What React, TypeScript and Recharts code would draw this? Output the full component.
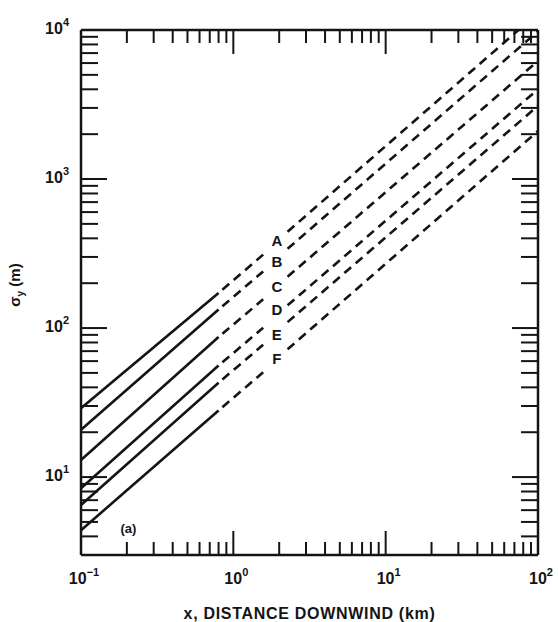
import React from 'react';
import { LineChart, Line, XAxis, YAxis, ReferenceDot } from 'recharts';

// Distances (km): start, end of solid part, start of label gap, end of label gap, end of dashed part
const distances = [0.1, 0.8, 1.57, 2.27, 100];
const classes = ['A', 'B', 'C', 'D', 'E', 'F'];
// sigma_y (m) read at the distances above
const sigmaA = [29, 172, 311, 443, 13000];
const sigmaB = [20.8, 133, 240, 340, 9800];
const sigmaC = [13, 87, 156, 221, 6200];
const sigmaD = [8.4, 56, 100.5, 142, 4000];
const sigmaE = [6.5, 43, 77.2, 109.6, 3100];
const sigmaF = [4.4, 28, 50.5, 72, 2100];
const sigmaSeries = [sigmaA, sigmaB, sigmaC, sigmaD, sigmaE, sigmaF];

// class letter label positions (data units)
const letterX = 1.93;
const letterY = [385, 280, 190, 133, 90, 62];
const panelTag = '(a)';
const panelTagPos = { x: 0.205, y: 4.5 };

const xTicks = [0.1, 0.2, 0.3, 0.4, 0.5, 0.6, 0.7, 0.8, 0.9, 1, 2, 3, 4, 5, 6, 7, 8, 9, 10, 20, 30, 40, 50, 60, 70, 80, 90, 100];
const yTicks = [3, 4, 5, 6, 7, 8, 9, 10, 20, 30, 40, 50, 60, 70, 80, 90, 100, 200, 300, 400, 500, 600, 700, 800, 900, 1000, 2000, 3000, 4000, 5000, 6000, 7000, 8000, 9000, 10000];
const xDomain = [0.1, 100];
const yDomain = [3, 10000];

const INK = '#141414';
const FONT = '"Liberation Sans", Arial, sans-serif';

const isMajor = (v: number) => Math.abs(Math.log10(v) - Math.round(Math.log10(v))) < 1e-6;
const expOf = (v: number) => {
  const e = Math.round(Math.log10(v));
  return e < 0 ? '\u2212' + Math.abs(e) : String(e);
};

const PowerLabel = ({ x, y, v, anchor }: any) => (
  <text x={x} y={y} textAnchor={anchor} fontFamily={FONT} fontWeight="bold" fontSize={16} fill={INK}>
    10<tspan dy={-8} fontSize={11}>{expOf(v)}</tspan>
  </text>
);

const BottomTick = (props: any) => {
  const { x, y, payload } = props;
  const v = payload.value;
  const major = isMajor(v);
  const len = major ? 24 : 13;
  return (
    <g>
      <line x1={x} y1={y} x2={x} y2={y - len} stroke={INK} strokeWidth={2} />
      {major && <PowerLabel x={x + 3} y={y + 29} v={v} anchor="middle" />}
    </g>
  );
};

const TopTick = (props: any) => {
  const { x, y, payload } = props;
  const major = isMajor(payload.value);
  const len = major ? 24 : 13;
  return <line x1={x} y1={y} x2={x} y2={y + len} stroke={INK} strokeWidth={2} />;
};

const LeftTick = (props: any) => {
  const { x, y, payload } = props;
  const v = payload.value;
  const major = isMajor(v);
  const len = major ? 26 : 17;
  return (
    <g>
      <line x1={x} y1={y} x2={x + len} y2={y} stroke={INK} strokeWidth={2} />
      {major && <PowerLabel x={x - 12} y={y + 4} v={v} anchor="end" />}
    </g>
  );
};

const RightTick = (props: any) => {
  const { x, y, payload } = props;
  const major = isMajor(payload.value);
  const len = major ? 26 : 17;
  return <line x1={x} y1={y} x2={x - len} y2={y} stroke={INK} strokeWidth={2} />;
};

const YTitle = () => (
  <text transform="translate(20,285) rotate(-90)" textAnchor="middle" fontFamily={FONT} fontWeight="bold" fontSize={15} fill={INK}>
    σ<tspan dy={4} fontSize={10}>y</tspan>
    <tspan dy={-4}> (m)</tspan>
  </text>
);

const segment = (s: number[], a: number, b: number) => [
  { x: distances[a], y: s[a] },
  { x: distances[b], y: s[b] },
];

export default function App() {
  return (
    <div style={{ position: 'absolute', left: 0, top: 0, background: '#fff' }}>
      <LineChart width={558} height={622} margin={{ top: 29, right: 19, bottom: 0, left: 0 }}>
        <XAxis
          dataKey="x"
          type="number"
          scale="log"
          domain={xDomain}
          allowDataOverflow
          ticks={xTicks}
          interval={0}
          tickSize={0}
          tickMargin={0}
          tickLine={false}
          tick={<BottomTick />}
          height={67}
          axisLine={{ stroke: INK, strokeWidth: 2.5 }}
          label={{
            value: 'x, DISTANCE DOWNWIND (km)',
            position: 'insideBottom',
            offset: 3,
            fill: INK,
            fontSize: 16,
            fontWeight: 'bold',
            fontFamily: FONT,
            letterSpacing: 0.7,
          }}
        />
        <XAxis
          xAxisId="top"
          orientation="top"
          dataKey="x"
          type="number"
          scale="log"
          domain={xDomain}
          allowDataOverflow
          ticks={xTicks}
          interval={0}
          tickSize={0}
          tickMargin={0}
          tickLine={false}
          tick={<TopTick />}
          height={1}
          axisLine={{ stroke: INK, strokeWidth: 2.5 }}
        />
        <YAxis
          type="number"
          scale="log"
          domain={yDomain}
          allowDataOverflow
          ticks={yTicks}
          interval={0}
          tickSize={0}
          tickMargin={0}
          tickLine={false}
          tick={<LeftTick />}
          width={81}
          axisLine={{ stroke: INK, strokeWidth: 2.5 }}
          label={<YTitle />}
        />
        <YAxis
          yAxisId="right"
          orientation="right"
          type="number"
          scale="log"
          domain={yDomain}
          allowDataOverflow
          ticks={yTicks}
          interval={0}
          tickSize={0}
          tickMargin={0}
          tickLine={false}
          tick={<RightTick />}
          width={1}
          axisLine={{ stroke: INK, strokeWidth: 2.5 }}
        />
        {sigmaSeries.map((s, i) => (
          <Line
            key={'solid' + classes[i]}
            data={segment(s, 0, 1)}
            dataKey="y"
            stroke={INK}
            strokeWidth={2.6}
            dot={false}
            activeDot={false}
            isAnimationActive={false}
          />
        ))}
        {sigmaSeries.map((s, i) => (
          <Line
            key={'dashL' + classes[i]}
            data={segment(s, 1, 2)}
            dataKey="y"
            stroke={INK}
            strokeWidth={2.6}
            strokeDasharray="9 6"
            strokeDashoffset={-5}
            dot={false}
            activeDot={false}
            isAnimationActive={false}
          />
        ))}
        {sigmaSeries.map((s, i) => (
          <Line
            key={'dashR' + classes[i]}
            data={segment(s, 3, 4)}
            dataKey="y"
            stroke={INK}
            strokeWidth={2.6}
            strokeDasharray="9 6"
            dot={false}
            activeDot={false}
            isAnimationActive={false}
          />
        ))}
        {classes.map((c, i) => (
          <ReferenceDot
            key={'lbl' + c}
            x={letterX}
            y={letterY[i]}
            r={0}
            fill="none"
            stroke="none"
            label={{ value: c, position: 'center', fill: INK, fontSize: 15, fontWeight: 'bold', fontFamily: FONT }}
          />
        ))}
        <ReferenceDot
          x={panelTagPos.x}
          y={panelTagPos.y}
          r={0}
          fill="none"
          stroke="none"
          label={{ value: panelTag, position: 'center', fill: INK, fontSize: 13, fontWeight: 'bold', fontFamily: FONT }}
        />
      </LineChart>
    </div>
  );
}
